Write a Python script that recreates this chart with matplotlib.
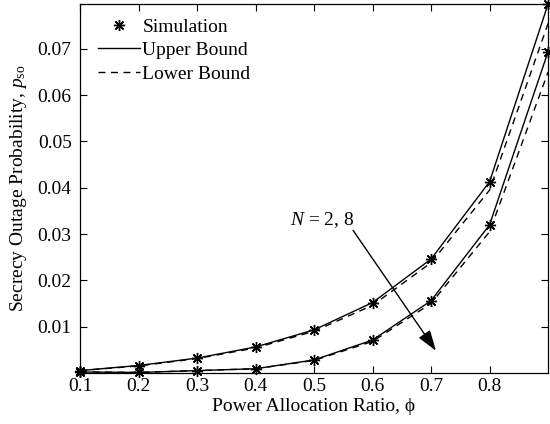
import matplotlib
matplotlib.use('Agg')
import matplotlib.pyplot as plt

plt.rcParams['font.family'] = ['Liberation Serif', 'DejaVu Serif']
plt.rcParams['mathtext.fontset'] = 'custom'
plt.rcParams['mathtext.rm'] = 'Liberation Serif'
plt.rcParams['mathtext.it'] = 'Liberation Serif:italic'

# power allocation ratio
phi = [0.1, 0.2, 0.3, 0.4, 0.5, 0.6, 0.7, 0.8, 0.9]

# N = 2
sim_n2 = [0.0005, 0.0016, 0.0032, 0.0056, 0.0093, 0.0152, 0.0246, 0.0413, 0.0797]
ub_n2 = [0.0005, 0.0016, 0.0032, 0.0056, 0.0093, 0.0152, 0.0246, 0.0413, 0.0797]
lb_n2 = [0.0005, 0.0015, 0.0031, 0.0054, 0.0090, 0.0146, 0.0238, 0.0395, 0.0755]

# N = 8
sim_n8 = [0.0002, 0.0001, 0.0005, 0.0009, 0.0028, 0.0071, 0.0156, 0.0320, 0.0694]
ub_n8 = [0.0002, 0.0001, 0.0005, 0.0009, 0.0028, 0.0071, 0.0156, 0.0320, 0.0694]
lb_n8 = [0.0002, 0.0001, 0.0005, 0.0009, 0.0027, 0.0068, 0.0150, 0.0305, 0.0650]

xticks = [0.1, 0.2, 0.3, 0.4, 0.5, 0.6, 0.7, 0.8]
yticks = [0.01, 0.02, 0.03, 0.04, 0.05, 0.06, 0.07]

fs = 14

fig = plt.figure(figsize=(5.5, 4.24), dpi=100)
ax = fig.add_axes([0.1455, 0.1205, 0.851, 0.870])

star = (8, 2, 0)
for sim, ub, lb in [(sim_n2, ub_n2, lb_n2), (sim_n8, ub_n8, lb_n8)]:
    ax.plot(phi, ub, 'k-', lw=1.0)
    ax.plot(phi, lb, 'k--', lw=1.0, dashes=(5, 4))
    ax.plot(phi, sim, ls='none', marker=star, ms=8, mec='k', mew=1.0, clip_on=False)

# legend handles
h_sim, = ax.plot([], [], ls='none', marker=star, ms=8, mec='k', mew=1.0)
h_ub, = ax.plot([], [], 'k-', lw=1.0)
h_lb, = ax.plot([], [], 'k--', lw=1.0, dashes=(5, 4))
ax.legend([h_sim, h_ub, h_lb], ['Simulation', 'Upper Bound', 'Lower Bound'],
          loc='upper left', bbox_to_anchor=(0.017, 0.988), frameon=False,
          fontsize=fs, handlelength=2.2, handletextpad=0.1, labelspacing=0.3,
          borderaxespad=0.3, borderpad=0.2)

ax.text(0.514, 0.0331, '$N$ = 2, 8', fontsize=fs, ha='center', va='center')
ax.annotate('', xy=(0.711, 0.0043), xytext=(0.564, 0.0313),
            arrowprops=dict(arrowstyle='-|>,head_length=0.9,head_width=0.3',
                            color='k', lw=1.0, mutation_scale=14))

ax.set_xlim(0.1, 0.9)
ax.set_ylim(0, 0.0797)
ax.set_xticks(xticks)
ax.set_xticklabels([str(t) for t in xticks])
ax.set_yticks(yticks)
ax.set_yticklabels([str(t) for t in yticks])
ax.tick_params(direction='in', top=True, right=True, length=5, width=0.8,
               labelsize=fs)
ax.tick_params(axis='x', pad=4)
ax.tick_params(axis='y', pad=6)
for s in ax.spines.values():
    s.set_linewidth(0.9)

ax.set_xlabel('Power Allocation Ratio, \u03d5', fontsize=fs, labelpad=2)
ax.set_ylabel('Secrecy Outage Probability, $p_{\\rm so}$', fontsize=fs, labelpad=6)

fig.savefig('out.png', dpi=100)
